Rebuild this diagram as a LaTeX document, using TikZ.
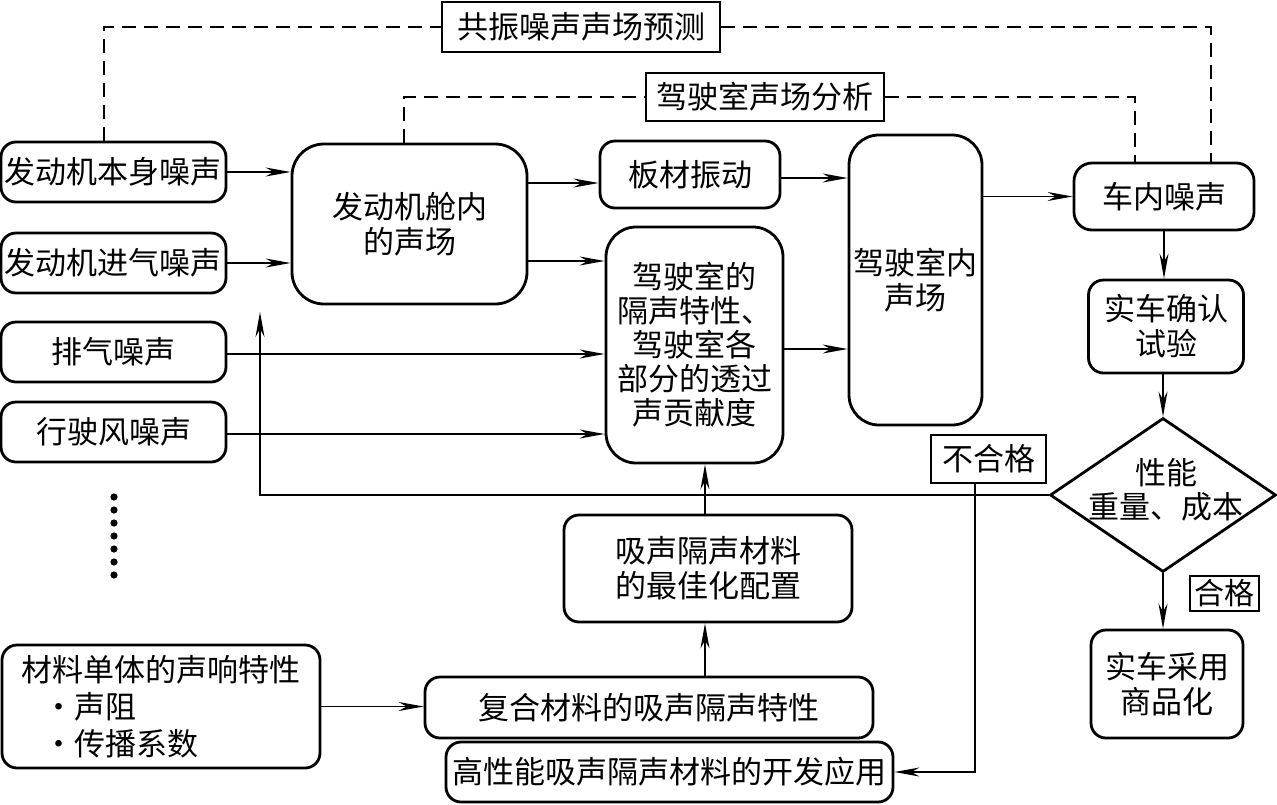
\documentclass[tikz,border=0pt]{standalone}
\usepackage{fontspec}
\setmainfont{Noto Sans CJK SC}
\usetikzlibrary{shapes.geometric,arrows.meta,calc}
\begin{document}
\begin{tikzpicture}[x=1pt,y=-1pt,
  every node/.style={font=\fontsize{31pt}{35pt}\selectfont, inner sep=0pt},
  rbox/.style={draw, line width=2.8pt, rounded corners=#1, align=center},
  rbox/.default=15pt,
  sbox/.style={draw, line width=2.8pt, align=center},
  tbox/.style={draw, line width=1.6pt, align=center},
  arr/.style={line width=1.5pt, -{Stealth[length=25pt,width=9pt,inset=8pt]}},
  dsh/.style={line width=1.8pt, dash pattern=on 14pt off 8pt}
]
\useasboundingbox (0,0) rectangle (1277,804);

% left inputs
\node[rbox, minimum width=225pt, minimum height=60pt] (A1) at (113.5,172) {发动机本身噪声};
\node[rbox, minimum width=225pt, minimum height=60pt] (A2) at (113.5,263) {发动机进气噪声};
\node[rbox, minimum width=225pt, minimum height=60pt] (A3) at (113.5,352) {排气噪声};
\node[rbox, minimum width=225pt, minimum height=60pt] (A4) at (113.5,432) {行驶风噪声};

% dots
\foreach \i in {0,...,6} \fill (114,{497+13*\i}) circle (3.6pt);

% engine compartment
\node[rbox=32pt, minimum width=235pt, minimum height=160pt] (B) at (409.5,224) {发动机舱内\\的声场};

% top label boxes
\node[sbox, minimum width=278pt, minimum height=50pt] (P1) at (581,27) {共振噪声声场预测};
\node[sbox, minimum width=238pt, minimum height=48pt] (P2) at (765,97) {驾驶室声场分析};

% middle column
\node[rbox, minimum width=180pt, minimum height=67pt] (C) at (690,174.5) {板材振动};
\node[rbox=30pt, minimum width=177pt, minimum height=236pt, font=\fontsize{31pt}{34pt}\selectfont] (D) at (694.5,345) {驾驶室的\\隔声特性、\\驾驶室各\\部分的透过\\声贡献度};
\node[rbox=30pt, minimum width=133pt, minimum height=290pt] (E) at (915.5,280) {驾驶室内\\声场};

% right column
\node[rbox=18pt, minimum width=180pt, minimum height=67pt] (F) at (1164,196.5) {车内噪声};
\node[rbox, minimum width=155pt, minimum height=93pt] (G) at (1166,326.5) {实车确认\\试验};
\node[draw, diamond, line width=2.8pt, minimum width=226pt, minimum height=154pt] (H) at (1163,495) {};
\node[align=center, font=\fontsize{31pt}{34pt}\selectfont] (Ht) at (1166,490) {性能\\重量、成本};
\node[rbox, minimum width=152pt, minimum height=108pt] (M) at (1167,684) {实车采用\\商品化};
\node[tbox, minimum width=115pt, minimum height=48pt] (N1) at (988.5,459) {不合格};
\node[tbox, minimum width=69pt, minimum height=35pt, font=\fontsize{30pt}{34pt}\selectfont] (N2) at (1224.5,593.5) {合格};

% materials
\node[rbox, minimum width=288pt, minimum height=107pt] (I) at (708,568.5) {吸声隔声材料\\的最佳化配置};
\node[rbox, minimum width=318pt, minimum height=123pt, align=left, font=\fontsize{31pt}{37pt}\selectfont] (J) at (161,706.5) {材料单体的声响特性\\\hspace*{22pt}·声阻\\\hspace*{22pt}·传播系数};
\node[rbox, fill=white, minimum width=447pt, minimum height=60pt] (L) at (669.5,772) {高性能吸声隔声材料的开发应用};
\node[rbox, fill=white, minimum width=448pt, minimum height=61pt] (K) at (649,707.5) {复合材料的吸声隔声特性};

% connectors
\draw[arr] (A1.east) -- (A1.east -| B.west);
\draw[arr] (A2.east) -- (A2.east -| B.west);
\coordinate (y354) at (0,354);
\coordinate (y434) at (0,434);
\draw[arr] (A3.east |- y354) -- (D.west |- y354);
\draw[arr] (A4.east |- y434) -- (D.west |- y434);
\coordinate (y183) at (0,183);
\coordinate (y261) at (0,261);
\draw[arr] (B.east |- y183) -- (C.west |- y183);
\draw[arr] (B.east |- y261) -- (D.west |- y261);
\coordinate (y178) at (0,178);
\coordinate (y349) at (0,349);
\draw[arr] (C.east |- y178) -- (E.west |- y178);
\draw[arr] (D.east |- y349) -- (E.west |- y349);
\draw[arr] (E.east |- F.west) -- (F.west);
\draw[arr] (F.south) -- (F.south |- G.north);
\draw[arr] (G.south -| H.north) -- (H.north);
\draw[arr] (H.south) -- (H.south |- M.north);

% feedback
\coordinate (fb) at (260,312);
\draw[arr] (H.west) -| (fb);

% reject path
\coordinate (nj) at (975,497);
\draw[arr] (nj |- N1.south) -- (nj |- L.east) -- (L.east);

% materials flow
\coordinate (cx) at (705,0);
\draw[arr] (J.east) -- (J.east -| K.west);
\draw[arr] (cx |- K.north) -- (cx |- I.south);
\draw[arr] (cx |- I.north) -- (cx |- D.south);

% dashed feedback lines
\coordinate (d1) at (104,0);
\coordinate (d2) at (1211,0);
\coordinate (d3) at (404,0);
\coordinate (d4) at (1135,0);
\draw[dsh] (d1 |- A1.north) |- (P1.west);
\draw[dsh] (P1.east) -| (d2 |- F.north);
\draw[dsh] (d3 |- B.north) |- (P2.west);
\draw[dsh] (P2.east) -| (d4 |- F.north);
\end{tikzpicture}
\end{document}
